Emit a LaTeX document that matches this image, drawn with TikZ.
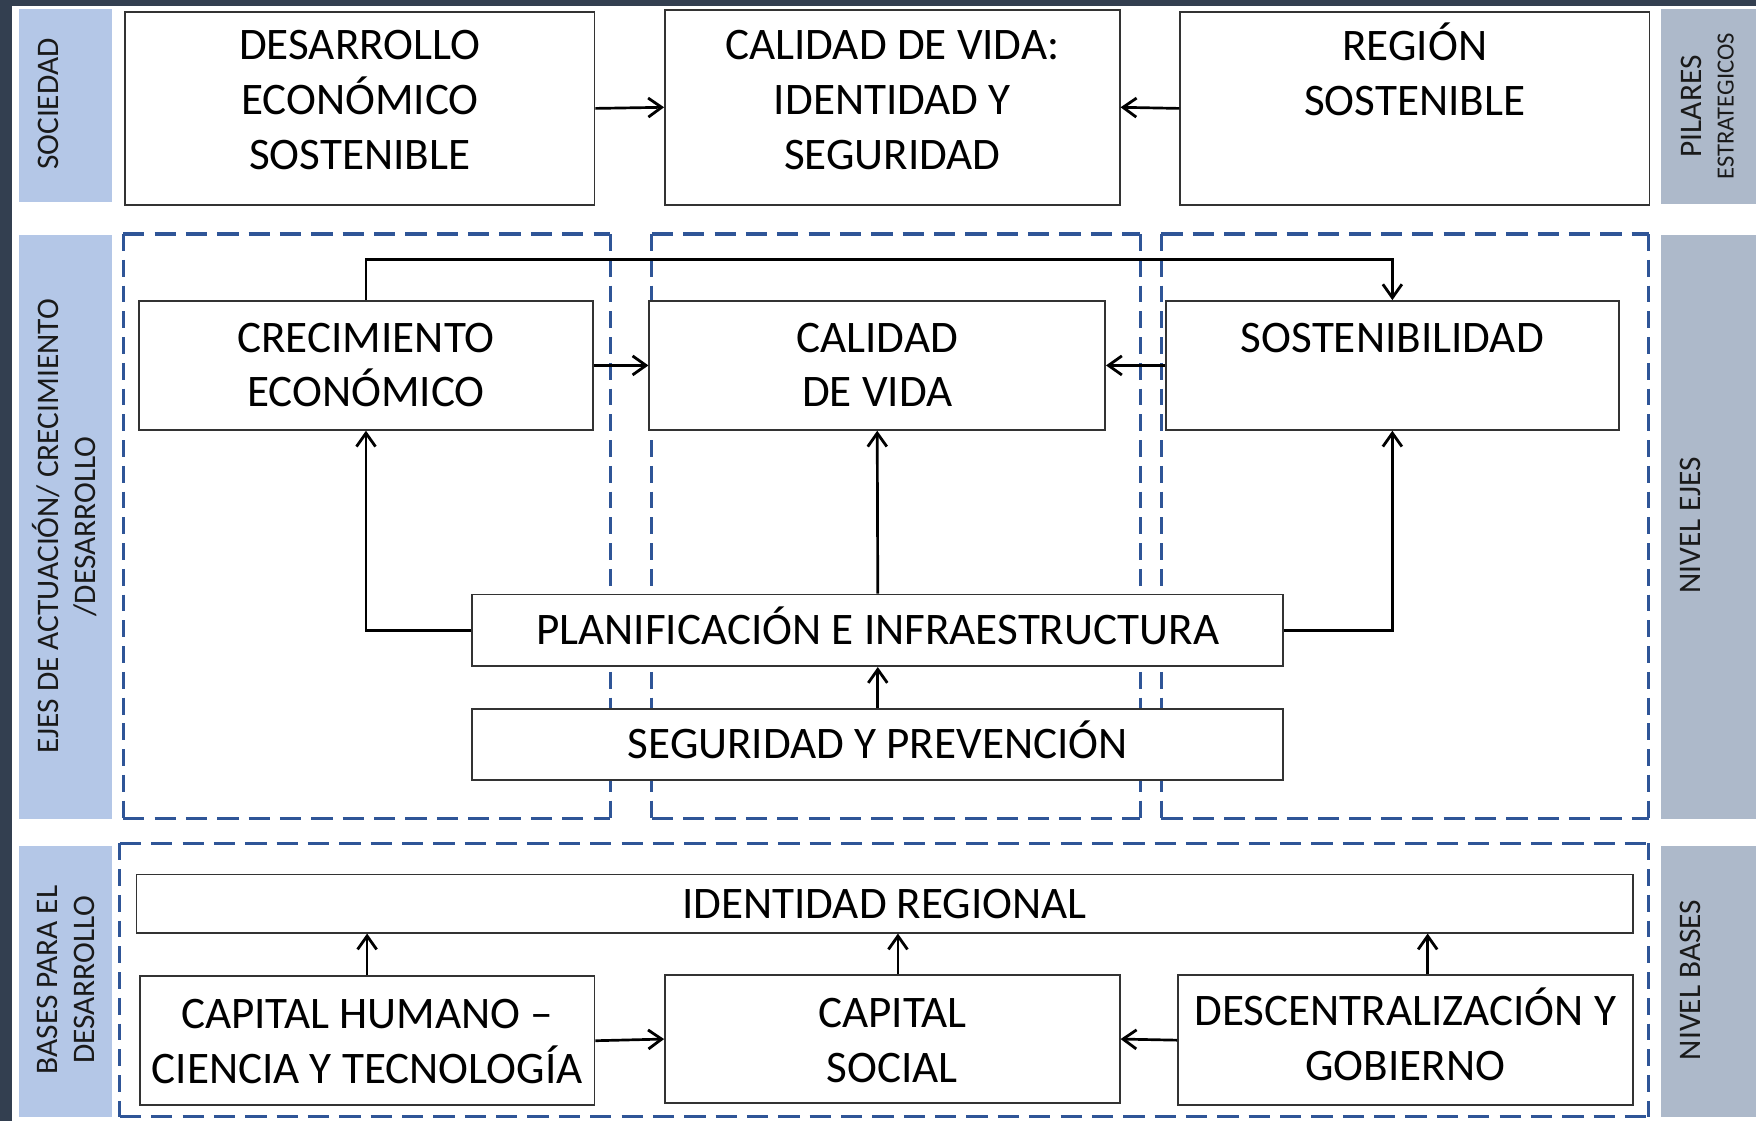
\documentclass[tikz,border=0pt]{standalone}
\usepackage{fontspec}
\setmainfont{Carlito}
\usetikzlibrary{arrows.meta,calc}
\definecolor{darkbg}{HTML}{333F50}
\definecolor{lblue}{HTML}{B4C7E7}
\definecolor{lgray}{HTML}{ADB9CA}
\definecolor{dblue}{HTML}{2F5597}
\definecolor{txtc}{HTML}{1A1A1A}
\tikzset{
  box/.style={draw=black!80, line width=1.6pt, fill=white, inner sep=0pt, anchor=north west},
  txt/.style={align=center, inner sep=0pt, anchor=north, text=black,
    font=\fontsize{40.3}{49}\selectfont, execute at begin node={\rule{0pt}{36pt}}},
  side/.style={rotate=90, align=center, inner sep=0pt, text=txtc, font=\fontsize{28}{33}\selectfont},
  arr/.style={line width=2.4pt, -{Straight Barb[length=12pt,width=17pt,line width=2.5pt]}},
  hdash/.style={draw=dblue, line width=2.8pt, dash pattern=on 19pt off 9pt},
  vdash/.style={draw=dblue, line width=2.8pt, dash pattern=on 15pt off 8pt}
}
\begin{document}
\begin{tikzpicture}[x=1pt,y=-1pt]
\useasboundingbox (0,0) rectangle (1568,1001);
\fill[darkbg] (0,0) rectangle (1568,1001);
\fill[white] (11,5) rectangle (1568,1001);
% side strips
\fill[lblue] (17,8) rectangle (100,180);
\fill[lblue] (17,210) rectangle (100,731);
\fill[lblue] (17,755) rectangle (100,997);
\fill[lgray] (1483,8) rectangle (1568,182);
\fill[lgray] (1483,210) rectangle (1568,731);
\fill[lgray] (1483,755) rectangle (1568,997);
\node[side] (s1) at (43,93) {SOCIEDAD};
\node[side] (s2) at (58,470) {EJES DE ACTUACIÓN/ CRECIMIENTO\\/DESARROLLO};
\node[side] (s3) at (59,875) {BASES PARA EL\\DESARROLLO};
\node[side] (s4) at (1510,95) {PILARES};
\node[side, font=\fontsize{22}{26}\selectfont] (s5) at (1541,95) {ESTRATEGICOS};
\node[side] (s6) at (1509,469) {NIVEL EJES};
\node[side] (s7) at (1509,875) {NIVEL BASES};
% dashed groups
\foreach \xa/\xb/\ya/\yb in {110/545/209/731, 582/1018/209/731, 1037/1472/209/731, 107/1472/753/997}{
  \draw[hdash] (\xa,\ya) -- (\xb,\ya);
  \draw[hdash] (\xa,\yb) -- (\xb,\yb);
  \draw[vdash] (\xa,\ya) -- (\xa,\yb);
  \draw[vdash] (\xb,\ya) -- (\xb,\yb);
}
% top boxes
\node[box, minimum width=419pt, minimum height=172pt] (des) at (111,10) {};
\node[box, minimum width=406pt, minimum height=174pt] (cal) at (593,8) {};
\node[box, minimum width=419pt, minimum height=172pt] (reg) at (1053,10) {};
\node[txt] at ($(des.north)+(0,17)$) {DESARROLLO\\ECONÓMICO\\SOSTENIBLE};
\node[txt] at ($(cal.north)+(0,19)$) {CALIDAD DE VIDA:\\IDENTIDAD Y\\SEGURIDAD};
\node[txt] at ($(reg.north)+(0,10)$) {REGIÓN\\SOSTENIBLE};
% middle boxes
\node[box, minimum width=406pt, minimum height=115pt] (crec) at (123,268) {};
\node[box, minimum width=407pt, minimum height=115pt] (cv) at (579,268) {};
\node[box, minimum width=405pt, minimum height=115pt] (sost) at (1040,268) {};
\node[box, minimum width=724pt, minimum height=64pt] (plan) at (421,530) {};
\node[box, minimum width=724pt, minimum height=64pt] (seg) at (421,632) {};
\node[txt] at ($(crec.north)+(0,20)$) {CRECIMIENTO\\ECONÓMICO};
\node[txt] at ($(cv.north)+(0,20)$) {CALIDAD\\DE VIDA};
\node[txt] at ($(sost.north)+(0,11)$) {SOSTENIBILIDAD};
\node[txt] at ($(plan.north)+(0,9)$) {PLANIFICACIÓN E INFRAESTRUCTURA};
\node[txt] at ($(seg.north)+(0,9)$) {SEGURIDAD Y PREVENCIÓN};
% bottom boxes
\node[box, minimum width=1336pt, minimum height=52pt] (idr) at (121,780) {};
\node[box, minimum width=406pt, minimum height=115pt] (ch) at (124,871) {};
\node[box, minimum width=406pt, minimum height=114pt] (cs) at (593,870) {};
\node[box, minimum width=406pt, minimum height=116pt] (dg) at (1051,870) {};
\node[txt] at ($(idr.north)+(0,4)$) {IDENTIDAD REGIONAL};
\node[txt] at ($(ch.north)+(0,21)$) {CAPITAL HUMANO –\\CIENCIA Y TECNOLOGÍA};
\node[txt] at ($(cs.north)+(0,21)$) {CAPITAL\\SOCIAL};
\node[txt] at ($(dg.north)+(0,12)$) {DESCENTRALIZACIÓN Y\\GOBIERNO};
% connectors
\draw[arr] (des.east) -- (cal.west);
\draw[arr] (reg.west) -- (cal.east);
\draw[arr] (crec.east) -- (cv.west);
\draw[arr] (sost.west) -- (cv.east);
\draw[arr] (crec.north) -- (crec.north |- 0,232) -| (sost.north);
\draw[arr] (plan.west) -| (crec.south);
\draw[arr] (plan.north) -- (cv.south);
\draw[arr] (plan.east) -| (sost.south);
\draw[arr] (seg.north) -- (plan.south);
\draw[arr] (ch.north) -- (ch.north |- idr.south);
\draw[arr] ([xshift=5pt]cs.north) -- ([xshift=5pt]cs.north |- idr.south);
\draw[arr] ([xshift=20pt]dg.north) -- ([xshift=20pt]dg.north |- idr.south);
\draw[arr] (ch.east) -- (cs.west);
\draw[arr] (dg.west) -- (cs.east);
\end{tikzpicture}
\end{document}
